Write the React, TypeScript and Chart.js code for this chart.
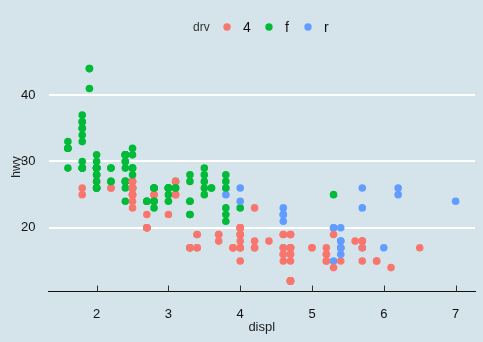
import { useEffect, useRef } from "react";
import { Chart, registerables } from "chart.js";
Chart.register(...registerables);

// mpg dataset (row order preserved so overlapping points stack as in the original)
const displ = [
  1.8, 1.8, 2.0, 2.0, 2.8, 2.8, 3.1,
  1.8, 1.8, 2.0, 2.0, 2.8, 2.8, 3.1, 3.1,
  2.8, 3.1, 4.2,
  5.3, 5.3, 5.3, 5.7, 6.0,
  5.7, 5.7, 6.2, 6.2, 7.0,
  5.3, 5.3, 5.7, 6.5,
  2.4, 2.4, 3.1, 3.5, 3.6,
  2.4, 3.0, 3.3, 3.3, 3.3, 3.3, 3.3, 3.8, 3.8, 3.8, 4.0,
  3.7, 3.7, 3.9, 3.9, 4.7, 4.7, 4.7, 5.2, 5.2,
  3.9, 4.7, 4.7, 4.7, 5.2, 5.7, 5.9,
  4.7, 4.7, 4.7, 4.7, 4.7, 4.7, 5.2, 5.2, 5.7, 5.9,
  4.6, 5.4, 5.4,
  4.0, 4.0, 4.0, 4.0, 4.6, 5.0,
  4.2, 4.2, 4.6, 4.6, 4.6, 5.4, 5.4,
  3.8, 3.8, 4.0, 4.0, 4.6, 4.6, 4.6, 4.6, 5.4,
  1.6, 1.6, 1.6, 1.6, 1.6, 1.8, 1.8, 1.8, 2.0,
  2.4, 2.4, 2.4, 2.4, 2.5, 2.5, 3.3,
  2.0, 2.0, 2.0, 2.0, 2.7, 2.7, 2.7,
  3.0, 3.7, 4.0, 4.7, 4.7, 4.7, 5.7, 6.1,
  4.0, 4.2, 4.4, 4.6,
  5.4, 5.4, 5.4,
  4.0, 4.0, 4.6, 5.0,
  2.4, 2.4, 2.5, 2.5, 3.5, 3.5,
  3.0, 3.0, 3.5,
  3.3, 3.3, 4.0, 5.6,
  3.1, 3.8, 3.8, 3.8, 5.3,
  2.5, 2.5, 2.5, 2.5, 2.5, 2.5,
  2.2, 2.2, 2.5, 2.5, 2.5, 2.5, 2.5, 2.5,
  2.7, 2.7, 3.4, 3.4, 4.0, 4.7,
  2.2, 2.2, 2.4, 2.4, 3.0, 3.0, 3.5,
  2.2, 2.2, 2.4, 2.4, 3.0, 3.0, 3.3,
  1.8, 1.8, 1.8, 1.8, 1.8,
  4.7, 5.7,
  2.7, 2.7, 2.7, 3.4, 3.4, 4.0, 4.0,
  2.0, 2.0, 2.0, 2.0, 2.8,
  1.9, 2.0, 2.0, 2.0, 2.0, 2.5, 2.5, 2.8, 2.8,
  1.9, 1.9, 2.0, 2.0, 2.5, 2.5,
  1.8, 1.8, 2.0, 2.0, 2.8, 2.8, 3.6,
];

const hwy = [
  29, 29, 31, 30, 26, 26, 27,
  26, 25, 28, 27, 25, 25, 25, 27,
  24, 25, 23,
  20, 15, 20, 17, 17,
  26, 23, 26, 25, 24,
  19, 14, 15, 17,
  27, 30, 26, 29, 26,
  24, 24, 22, 22, 24, 24, 17, 22, 21, 23, 23,
  19, 18, 17, 17, 19, 19, 12, 17, 15,
  17, 17, 12, 17, 16, 18, 15,
  16, 12, 17, 17, 16, 12, 15, 16, 17, 15,
  17, 17, 18,
  17, 19, 17, 19, 19, 17,
  17, 17, 16, 16, 17, 15, 17,
  26, 25, 26, 24, 21, 22, 23, 22, 20,
  33, 32, 32, 29, 32, 34, 36, 36, 29,
  26, 27, 30, 31, 26, 26, 28,
  26, 29, 28, 27, 24, 24, 24,
  22, 19, 20, 17, 12, 19, 18, 14,
  15, 18, 18, 15,
  17, 16, 18,
  17, 19, 19, 17,
  29, 27, 31, 32, 27, 26,
  26, 25, 25,
  17, 17, 20, 18,
  26, 26, 27, 28, 25,
  25, 24, 27, 25, 26, 23,
  26, 26, 26, 26, 25, 27, 25, 27,
  20, 20, 19, 17, 20, 17,
  29, 27, 31, 31, 26, 26, 28,
  27, 29, 31, 31, 26, 26, 27,
  30, 33, 35, 37, 35,
  15, 18,
  20, 20, 22, 17, 19, 18, 20,
  29, 26, 29, 29, 24,
  44, 29, 26, 29, 29, 29, 29, 23, 24,
  44, 41, 29, 26, 28, 29,
  29, 29, 28, 29, 26, 26, 26,
];

const drv = (
  "fffffff" + "44444444" + "444" + "rrrrr" + "rrrrr" + "4444" + "fffff" +
  "fffffffffff" + "444444444" + "4444444" + "4444444444" + "rrr" + "444444" +
  "4444444" + "rrrrrrrrr" + "fffffffff" + "fffffff" + "fffffff" + "44444444" +
  "4444" + "rrr" + "4444" + "ffffff" + "fff" + "4444" + "fffff" + "444444" +
  "44444444" + "444444" + "fffffff" + "fffffff" + "fffff" + "44" + "4444444" +
  "fffff" + "fffffffff" + "ffffff" + "fffffff"
).split("");

const drvLevels = ["4", "f", "r"];
const drvColors = ["#F8766D", "#00BA38", "#619CFF"];
const xTicks = [2, 3, 4, 5, 6, 7];
const yTicks = [20, 30, 40];

const BG = "#d5e4eb";
const FONT = "'Liberation Sans', Arial, sans-serif";

export default function App() {
  const ref = useRef<HTMLCanvasElement | null>(null);

  useEffect(() => {
    document.body.style.margin = "0";
    const canvas = ref.current;
    if (!canvas) return;

    const colorOf = (d: string) => drvColors[drvLevels.indexOf(d)];
    const points = displ.map((x, i) => ({ x, y: hwy[i] }));
    const colors = drv.map(colorOf);

    const decor = {
      id: "decor",
      beforeDraw(chart: any) {
        const { ctx, width, height } = chart;
        ctx.save();
        ctx.fillStyle = BG;
        ctx.fillRect(0, 0, width, height);
        ctx.restore();
      },
      beforeDatasetsDraw(chart: any) {
        const { ctx, chartArea, scales } = chart;
        ctx.save();
        ctx.strokeStyle = "#333";
        ctx.lineWidth = 1;
        xTicks.forEach((t) => {
          const px = Math.round(scales.x.getPixelForValue(t)) + 0.5;
          ctx.beginPath();
          ctx.moveTo(px, chartArea.bottom);
          ctx.lineTo(px, chartArea.bottom - 6);
          ctx.stroke();
        });
        ctx.restore();
      },
      afterDraw(chart: any) {
        const { ctx, chartArea } = chart;
        ctx.save();
        // axis titles
        ctx.fillStyle = "#222";
        ctx.textAlign = "center";
        ctx.textBaseline = "middle";
        ctx.font = `13px ${FONT}`;
        ctx.fillText("displ", (chartArea.left + chartArea.right) / 2, 327);
        ctx.save();
        ctx.translate(17, 167);
        ctx.rotate(-Math.PI / 2);
        ctx.font = `12px ${FONT}`;
        ctx.fillText("hwy", 0, 0);
        ctx.restore();
        // legend
        ctx.font = `12px ${FONT}`;
        ctx.fillStyle = "#333";
        ctx.textAlign = "left";
        ctx.fillText("drv", 193, 28);
        const dotX = [227, 269, 308];
        drvLevels.forEach((lv, i) => {
          ctx.fillStyle = drvColors[i];
          ctx.beginPath();
          ctx.arc(dotX[i], 27, 3.7, 0, Math.PI * 2);
          ctx.fill();
          ctx.fillStyle = "#111";
          ctx.font = `14px ${FONT}`;
          ctx.fillText(lv, dotX[i] + 16, 28);
        });
        ctx.restore();
      },
    };

    const chart = new Chart(canvas, {
      type: "scatter",
      data: {
        datasets: [
          {
            label: "drv",
            data: points,
            pointBackgroundColor: colors,
            pointBorderWidth: 0,
            pointBorderColor: "rgba(0,0,0,0)",
            pointRadius: 3.8,
            pointHoverRadius: 3.8,
          },
        ],
      },
      options: {
        responsive: false,
        animation: false,
        events: [],
        layout: { padding: { top: 58, right: 8, left: 0, bottom: 0 } },
        plugins: { legend: { display: false }, tooltip: { enabled: false } },
        scales: {
          x: {
            type: "linear",
            min: 1.33,
            max: 7.27,
            afterBuildTicks: (s: any) => {
              s.ticks = xTicks.map((v) => ({ value: v }));
            },
            afterFit: (s: any) => {
              s.height = 50.5;
            },
            grid: { display: false, drawTicks: false },
            border: { display: true, color: "#111", width: 1 },
            ticks: {
              padding: 15,
              color: "#111",
              font: { family: FONT, size: 13 },
              maxRotation: 0,
              autoSkip: false,
            },
          },
          y: {
            type: "linear",
            min: 10.4,
            max: 45.6,
            afterBuildTicks: (s: any) => {
              s.ticks = yTicks.map((v) => ({ value: v }));
            },
            afterFit: (s: any) => {
              s.width = 48.5;
            },
            grid: { color: "#ffffff", lineWidth: 2, drawTicks: false },
            border: { display: false },
            ticks: {
              padding: 13,
              color: "#111",
              font: { family: FONT, size: 13 },
            },
          },
        },
      },
      plugins: [decor],
    } as any);

    return () => chart.destroy();
  }, []);

  return (
    <div style={{ position: "absolute", left: 0, top: 0, width: 483, height: 342, background: BG }}>
      <canvas ref={ref} width={483} height={342} style={{ display: "block" }} />
    </div>
  );
}
